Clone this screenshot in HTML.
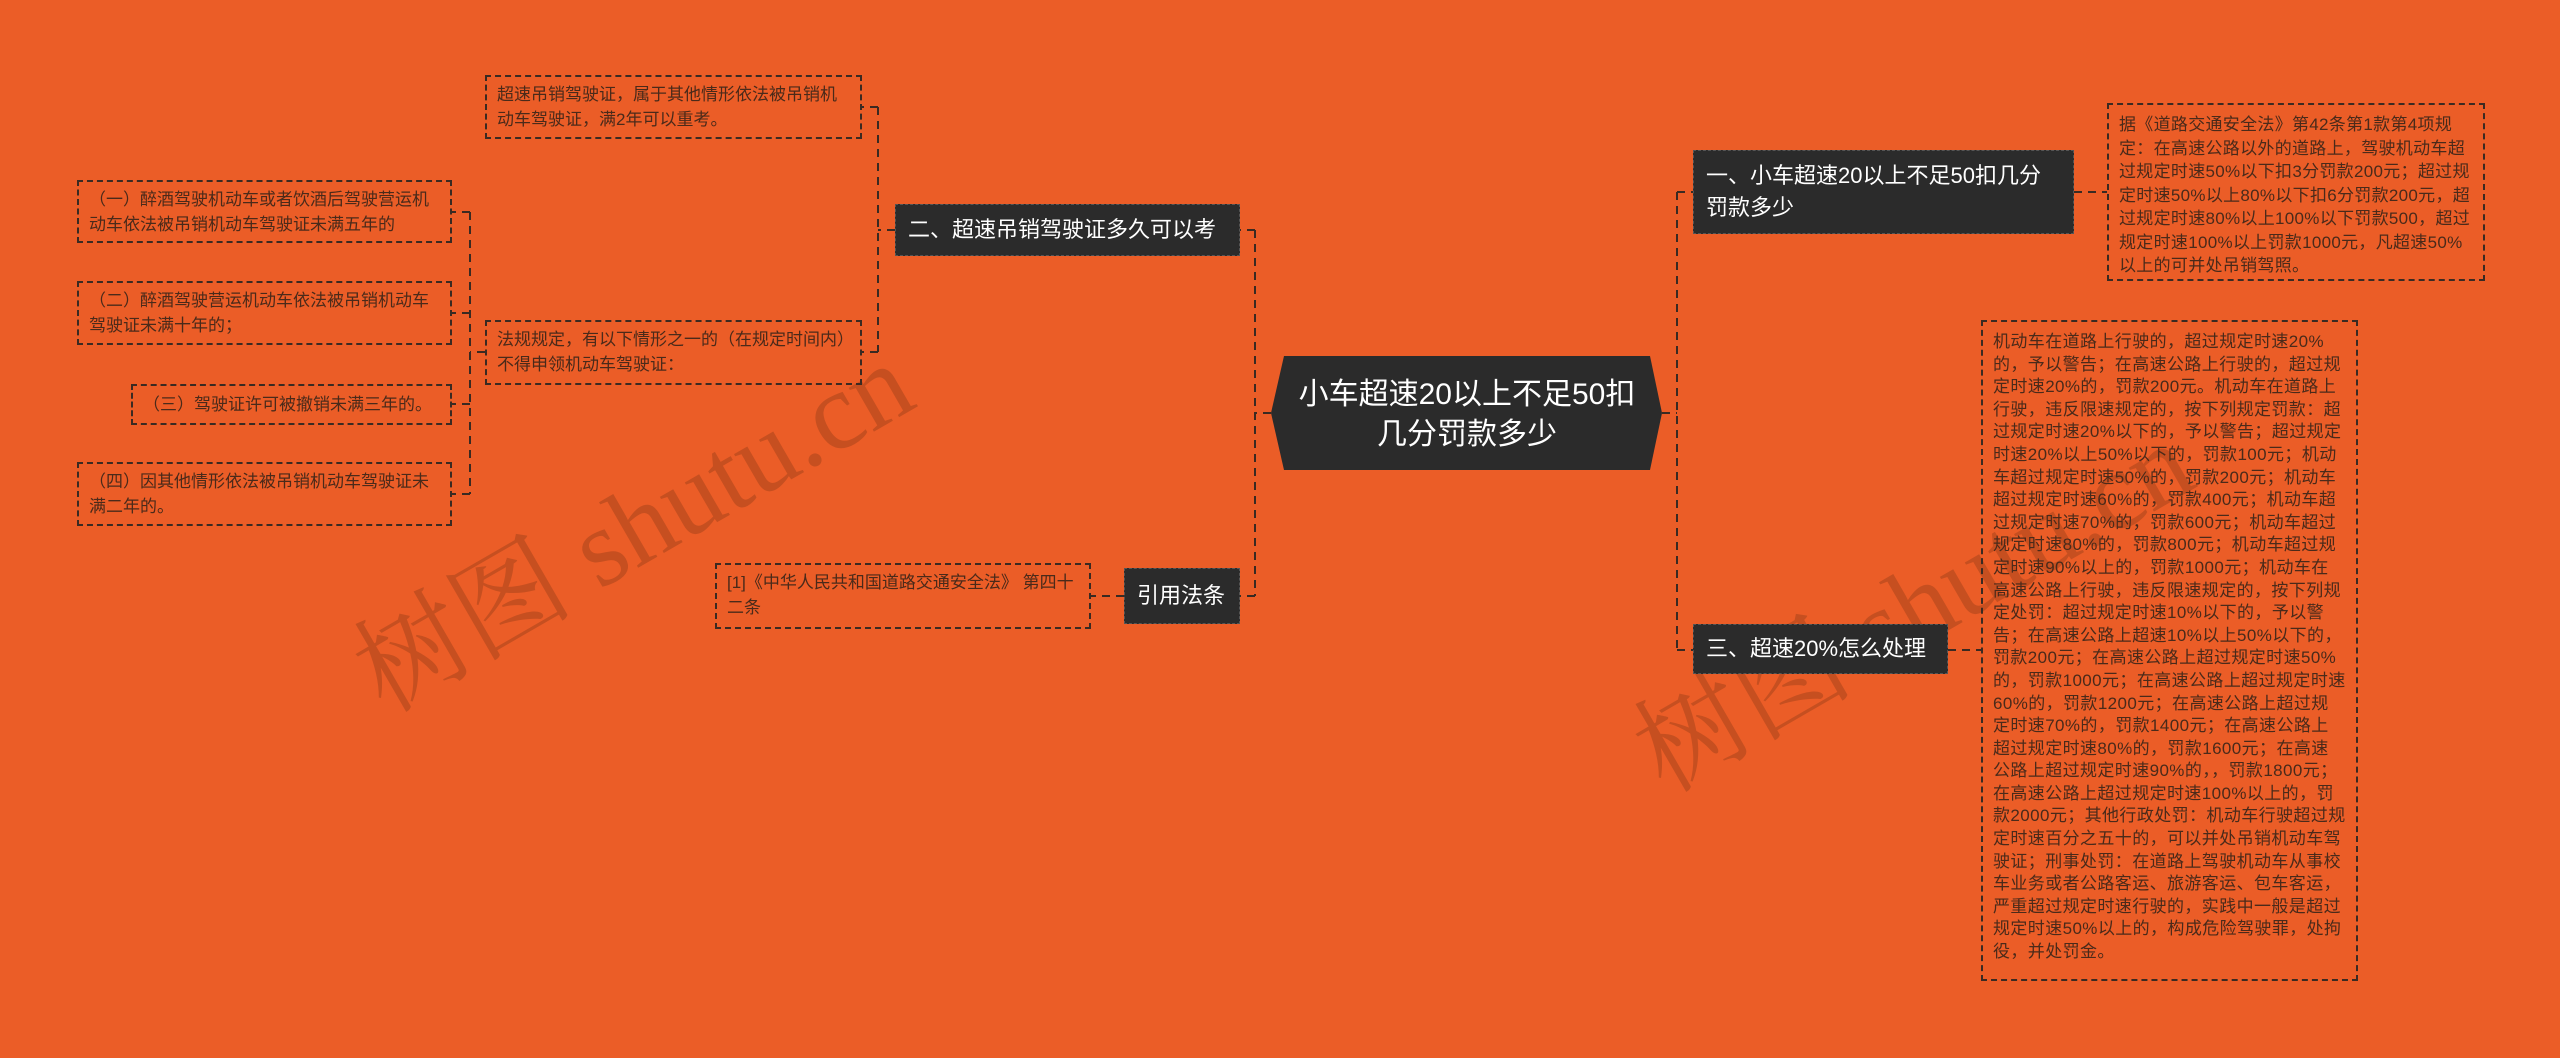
<!DOCTYPE html>
<html><head><meta charset="utf-8"><style>
body{margin:0;width:2560px;height:1058px;background:#EB5D27;position:relative;overflow:hidden;font-family:"Liberation Sans","Noto Sans CJK SC",sans-serif;}
.d{position:absolute;box-sizing:border-box;border:2px dashed #3a2a22;color:#4a2a1a;font-size:17px;line-height:25px;padding:5px 10px 0 10px;}
.n{position:absolute;box-sizing:border-box;background:#2b2b2b;color:#fff;font-size:22px;line-height:32px;border:1px dashed #555;padding:0 12px;display:flex;align-items:center;}
.wm{position:absolute;color:rgba(120,50,20,0.32);font-family:"Liberation Serif","Noto Serif CJK SC",serif;font-size:110px;transform:rotate(-30deg);white-space:nowrap;}
</style></head><body>
<div class="wm" style="left:320px;top:440px;">树图 shutu.cn</div>
<div class="wm" style="left:1600px;top:520px;">树图 shutu.cn</div>
<svg width="2560" height="1058" style="position:absolute;left:0;top:0">
<g stroke="#3a2a22" stroke-width="2" fill="none" stroke-dasharray="8,6">
<path d="M1271 413 H1255 M1255 230 V596 M1255 230 H1240 M1255 596 H1240"/>
<path d="M1662 413 H1677 M1677 192 V650 M1677 192 H1693 M1677 650 H1693"/>
<path d="M2074 192 H2107 M1948 650 H1981"/>
<path d="M895 230 H878 M878 107 V352 M878 107 H862 M878 352 H862"/>
<path d="M1124 596 H1091"/>
<path d="M485 352 H470 M470 212 V494 M470 212 H452 M470 313 H452 M470 404 H452 M470 494 H452"/>
</g>
<polygon points="1284,356 1650,356 1662,413 1650,470 1284,470 1271,413" fill="#2b2b2b"/>
<text x="1467" y="404" fill="#fff" font-size="30" text-anchor="middle" font-family="Liberation Sans, Noto Sans CJK SC, sans-serif">小车超速20以上不足50扣</text>
<text x="1467" y="444" fill="#fff" font-size="30" text-anchor="middle" font-family="Liberation Sans, Noto Sans CJK SC, sans-serif">几分罚款多少</text>
</svg>
<div class="n" style="left:1693px;top:150px;width:381px;height:84px;">一、小车超速20以上不足50扣几分罚款多少</div>
<div class="n" style="left:1693px;top:624px;width:255px;height:50px;">三、超速20%怎么处理</div>
<div class="n" style="left:895px;top:204px;width:345px;height:52px;">二、超速吊销驾驶证多久可以考</div>
<div class="n" style="left:1124px;top:568px;width:116px;height:56px;">引用法条</div>
<div class="d" style="left:2107px;top:103px;width:378px;height:178px;line-height:23.5px;padding-top:8px;letter-spacing:0.3px;">据《道路交通安全法》第42条第1款第4项规定：在高速公路以外的道路上，驾驶机动车超过规定时速50%以下扣3分罚款200元；超过规定时速50%以上80%以下扣6分罚款200元，超过规定时速80%以上100%以下罚款500，超过规定时速100%以上罚款1000元，凡超速50%以上的可并处吊销驾照。</div>
<div class="d" style="left:1981px;top:320px;width:377px;height:661px;line-height:22.6px;font-size:17px;padding-top:9px;letter-spacing:0.4px;">机动车在道路上行驶的，超过规定时速20%的，予以警告；在高速公路上行驶的，超过规定时速20%的，罚款200元。机动车在道路上行驶，违反限速规定的，按下列规定罚款：超过规定时速20%以下的，予以警告；超过规定时速20%以上50%以下的，罚款100元；机动车超过规定时速50%的，罚款200元；机动车超过规定时速60%的，罚款400元；机动车超过规定时速70%的，罚款600元；机动车超过规定时速80%的，罚款800元；机动车超过规定时速90%以上的，罚款1000元；机动车在高速公路上行驶，违反限速规定的，按下列规定处罚：超过规定时速10%以下的，予以警告；在高速公路上超速10%以上50%以下的，罚款200元；在高速公路上超过规定时速50%的，罚款1000元；在高速公路上超过规定时速60%的，罚款1200元；在高速公路上超过规定时速70%的，罚款1400元；在高速公路上超过规定时速80%的，罚款1600元；在高速公路上超过规定时速90%的，，罚款1800元；在高速公路上超过规定时速100%以上的，罚款2000元；其他行政处罚：机动车行驶超过规定时速百分之五十的，可以并处吊销机动车驾驶证；刑事处罚：在道路上驾驶机动车从事校车业务或者公路客运、旅游客运、包车客运，严重超过规定时速行驶的，实践中一般是超过规定时速50%以上的，构成危险驾驶罪，处拘役，并处罚金。</div>
<div class="d" style="left:485px;top:75px;width:377px;height:64px;">超速吊销驾驶证，属于其他情形依法被吊销机动车驾驶证，满2年可以重考。</div>
<div class="d" style="left:485px;top:320px;width:377px;height:65px;">法规规定，有以下情形之一的（在规定时间内）不得申领机动车驾驶证：</div>
<div class="d" style="left:77px;top:180px;width:375px;height:63px;">（一）醉酒驾驶机动车或者饮酒后驾驶营运机动车依法被吊销机动车驾驶证未满五年的</div>
<div class="d" style="left:77px;top:281px;width:375px;height:64px;">（二）醉酒驾驶营运机动车依法被吊销机动车驾驶证未满十年的；</div>
<div class="d" style="left:131px;top:384px;width:321px;height:41px;padding-top:6px;">（三）驾驶证许可被撤销未满三年的。</div>
<div class="d" style="left:77px;top:462px;width:375px;height:64px;">（四）因其他情形依法被吊销机动车驾驶证未满二年的。</div>
<div class="d" style="left:715px;top:563px;width:376px;height:66px;">[1]《中华人民共和国道路交通安全法》 第四十二条</div>
</body></html>
